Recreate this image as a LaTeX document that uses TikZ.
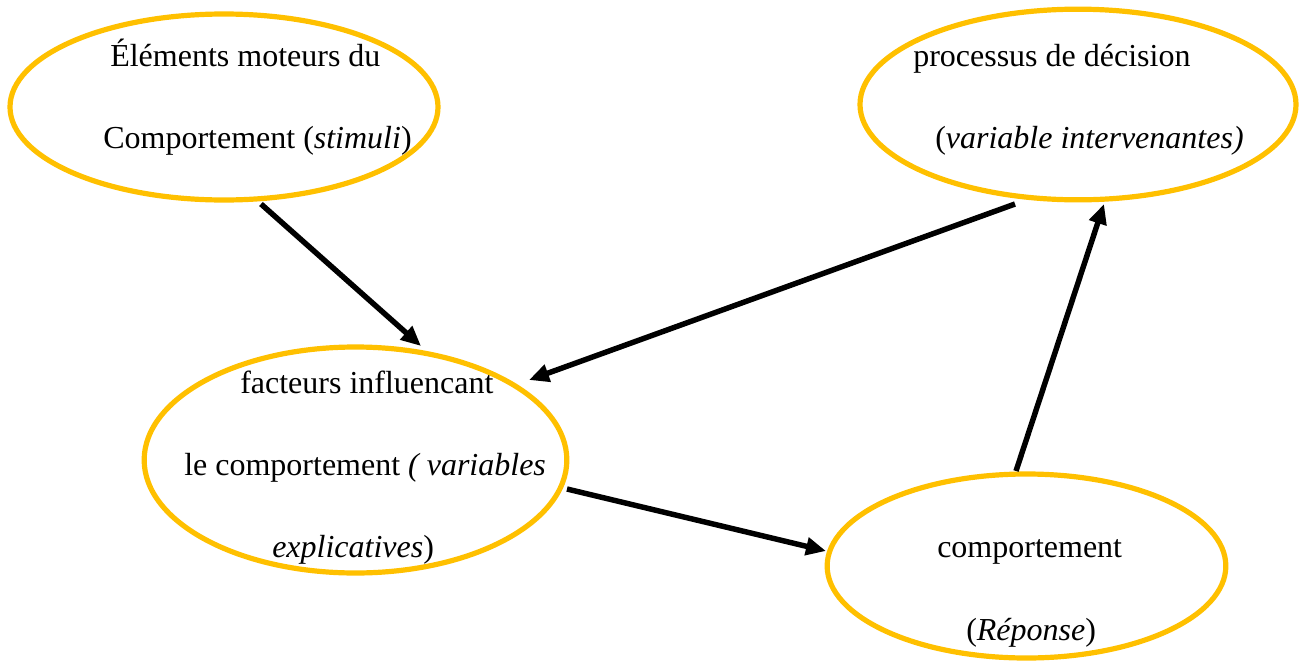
\documentclass[tikz,border=0pt]{standalone}
\usepackage{fontspec}
\setmainfont{Liberation Serif}
\usetikzlibrary{shapes.geometric,arrows.meta}
\definecolor{gold}{HTML}{FFC000}
\begin{document}
\begin{tikzpicture}[x=0.75pt,y=-0.75pt,
  bubble/.style={draw=gold,line width=3.9pt,ellipse,inner sep=0pt},
  label/.style={anchor=base west,inner sep=0pt,font=\fontsize{24}{28}\selectfont},
  link/.style={line width=4.1pt,-{Triangle[length=15pt,width=13pt]}}]
\useasboundingbox (0,0) rectangle (1300,664);

% the four ellipses
\node[bubble,minimum width=321pt,minimum height=139.5pt] (stim) at (224,107) {};
\node[bubble,minimum width=327pt,minimum height=143pt] (proc) at (1078,104.5) {};
\node[bubble,minimum width=317pt,minimum height=169.5pt] (fact) at (355.5,460) {};
\node[bubble,minimum width=299pt,minimum height=138pt] (resp) at (1026.5,566) {};

% texts
\node[label] (t1a) at (110,66) {Éléments moteurs du};
\node[label] (t1b) at (103,148) {Comportement (\textit{stimuli})};
\node[label] (t2a) at (913,66) {processus de décision};
\node[label] (t2b) at (935,148) {(\textit{variable intervenantes)}};
\node[label] (t3a) at (240,393) {facteurs influencant};
\node[label] (t3b) at (184,475) {le comportement \textit{( variables}};
\node[label] (t3c) at (272,557) {\textit{explicatives})};
\node[label] (t4a) at (937,557) {comportement};
\node[label] (t4b) at (966,640) {(\textit{Réponse})};

% connector ends
\coordinate (s1) at (261,204);
\coordinate (e1) at (421,346);
\coordinate (s2) at (1015,204);
\coordinate (e2) at (529,380);
\coordinate (s3) at (567,489);
\coordinate (e3) at (826,551);
\coordinate (s4) at (1016,471);
\coordinate (e4) at (1104,204);

\draw[link] (s1) -- (e1);
\draw[link] (s2) -- (e2);
\draw[link] (s3) -- (e3);
\draw[link] (s4) -- (e4);
\end{tikzpicture}
\end{document}
